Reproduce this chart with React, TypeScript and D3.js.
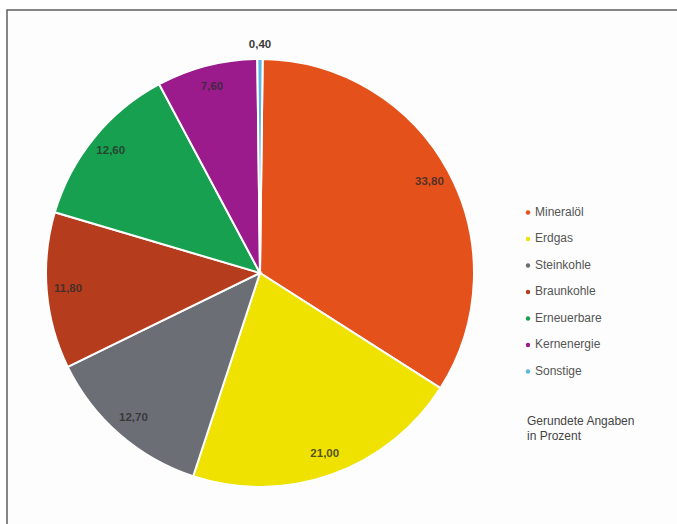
import React from "react";
import * as d3 from "d3";

const categories = ["Mineralöl", "Erdgas", "Steinkohle", "Braunkohle", "Erneuerbare", "Kernenergie", "Sonstige"];
const values = [33.8, 21.0, 12.7, 11.8, 12.6, 7.6, 0.4];
const valueLabels = ["33,80", "21,00", "12,70", "11,80", "12,60", "7,60", "0,40"];
const colors = ["#e5511b", "#efe100", "#6c6e76", "#b53d1d", "#17a04f", "#9b1b8d", "#5db6e2"];

const W = 677;
const H = 524;
const cx = 260;
const cy = 273;
const R = 214;

export default function App() {
  const offset = (values[6] / 100) * Math.PI; // centre the small slice on 12 o'clock
  const pie = d3
    .pie<number>()
    .sort(null)
    .value((d) => d)
    .startAngle(offset)
    .endAngle(offset + 2 * Math.PI);
  const arcs = pie(values);
  const arc = d3.arc<d3.PieArcDatum<number>>().innerRadius(0).outerRadius(R);
  const labelArc = d3.arc<d3.PieArcDatum<number>>().innerRadius(R * 0.9).outerRadius(R * 0.9);

  return (
    <svg
      width={W}
      height={H}
      style={{ position: "absolute", left: 0, top: 0, display: "block", background: "#fff" }}
      fontFamily="Liberation Sans, Arial, sans-serif"
    >
      <rect x={7} y={10} width={W} height={H} fill="#fdfdfd" stroke="#5f5f5f" strokeWidth={1.5} />
      <g transform={`translate(${cx},${cy})`}>
        {arcs.map((a, i) => (
          <path key={categories[i]} d={arc(a) || ""} fill={colors[i]} stroke="#ffffff" strokeWidth={2} />
        ))}
        {arcs.map((a, i) => {
          if (i === 6) {
            const ang = (a.startAngle + a.endAngle) / 2;
            const rr = R + 14;
            return (
              <text
                key={"l" + i}
                x={Math.sin(ang) * rr}
                y={-Math.cos(ang) * rr}
                textAnchor="middle"
                dominantBaseline="middle"
                fontSize={11.5}
                fontWeight="bold"
                fill="#3a3a3a"
              >
                {valueLabels[i]}
              </text>
            );
          }
          const [x, y] = labelArc.centroid(a);
          return (
            <text
              key={"l" + i}
              x={x}
              y={y}
              textAnchor="middle"
              dominantBaseline="middle"
              fontSize={11.5}
              fontWeight="bold"
              fill="#2b2b2b"
              fillOpacity={0.8}
            >
              {valueLabels[i]}
            </text>
          );
        })}
      </g>
      <g>
        {categories.map((c, i) => {
          const y = 212.5 + i * 26.5;
          return (
            <g key={"lg" + c}>
              <circle cx={528} cy={y} r={2.2} fill={colors[i]} />
              <text x={535} y={y} dominantBaseline="middle" fontSize={12} fill="#555">
                {c}
              </text>
            </g>
          );
        })}
        <text x={527} y={425} fontSize={12} fill="#444">
          Gerundete Angaben
        </text>
        <text x={527} y={440} fontSize={12} fill="#444">
          in Prozent
        </text>
      </g>
    </svg>
  );
}
